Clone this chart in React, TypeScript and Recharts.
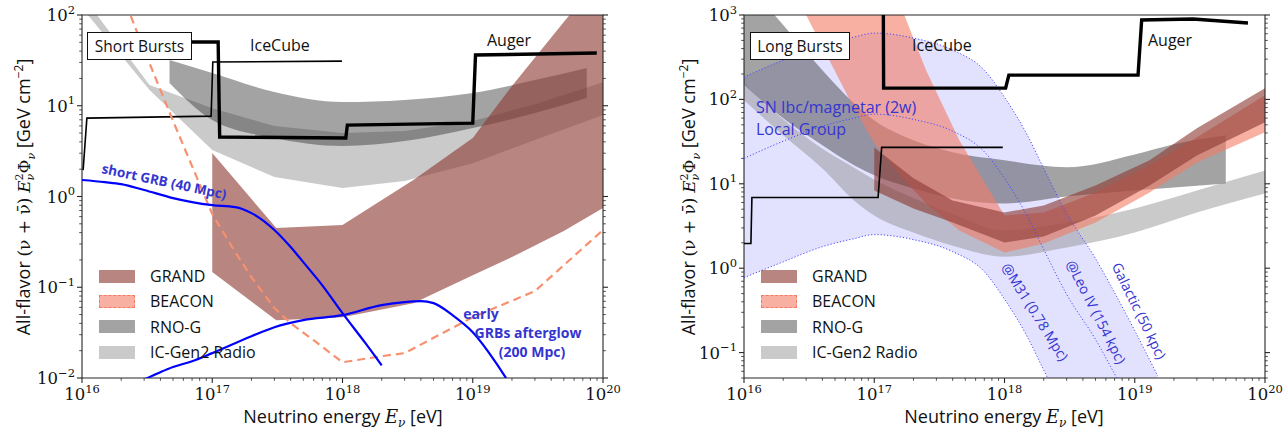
import React from 'react';
import { ComposedChart, Area, Line, XAxis, YAxis, ReferenceArea } from 'recharts';

// ---------------- Left panel: Short Bursts ----------------
const sIcGen2E = [1e16, 3.3e16, 1e17, 3e17, 1e18, 3e18, 1e19, 3e19, 1e20];
const sIcGen2Lo = [120, 14.9, 3.25, 1.64, 1.24, 1.48, 2.33, 4.19, 7.9];
const sIcGen2Hi = [166, 16.9, 9.4, 5.97, 5.0, 5.26, 6.78, 10.4, 18.2];

const sRnoE = [4.7e16, 1e17, 3e17, 1e18, 3e18, 1e19, 3e19, 7.5e19];
const sRnoLo = [17.8, 6.95, 4.41, 3.6, 4.08, 5.68, 8.32, 12.2];
const sRnoHi = [31.9, 23.0, 14.2, 11.0, 11.6, 13.8, 19.2, 26.1];

const sGrandE = [1e17, 3.1e17, 1e18, 3.5e18, 1e19, 2e19, 5e19, 1e20];
const sGrandLo = [0.147, 0.0434, 0.0468, 0.0668, 0.136, 0.215, 0.416, 0.745];
const sGrandHi = [3.01, 0.449, 0.484, 1.52, 4.41, 16.5, 83.8, 276];

const sBeaconE = [2e16, 3e16, 5e16, 1e17, 1.5e17, 2e17, 3e17, 4e17, 6e17, 1e18, 2e18, 3e18, 1e19, 3e19, 1e20];
const sBeaconF = [180, 41.1, 6.8, 0.64, 0.244, 0.129, 0.0589, 0.0402, 0.0261, 0.0149, 0.0174, 0.0188, 0.0468, 0.0906, 0.427];

const sIceCubeE = [1.02e16, 1.09e16, 9.8e16, 1.01e17, 9.9e17];
const sIceCubeF = [1.95, 7.31, 7.69, 30.3, 31];

const sAugerE = [3.3e16, 1.11e17, 1.14e17, 1.06e18, 1.09e18, 1e19, 1.05e19, 8.96e19];
const sAugerF = [50.4, 50.4, 4.52, 4.41, 6.12, 6.44, 36.2, 38.1];

const sShortGrbE = [1e16, 1.5e16, 2e16, 3e16, 5e16, 7e16, 1e17, 1.5e17, 2e17, 3e17, 4e17, 5e17, 7e17, 1e18, 1.5e18, 2e18];
const sShortGrbF = [1.52, 1.44, 1.37, 1.18, 0.96, 0.867, 0.803, 0.763, 0.656, 0.427, 0.277, 0.189, 0.105, 0.0518, 0.0242, 0.0138];

const sEarlyGrbE = [2.8e16, 4e16, 5e16, 7e16, 1e17, 2e17, 3e17, 5e17, 1e18, 2e18, 3e18, 4e18, 5e18, 7e18, 1e19, 1.5e19, 1.8e19];
const sEarlyGrbF = [0.0092, 0.0116, 0.0132, 0.0153, 0.0188, 0.0289, 0.0363, 0.0434, 0.0492, 0.0635, 0.0686, 0.0703, 0.0668, 0.0492, 0.032, 0.0149, 0.01];

// ---------------- Right panel: Long Bursts ----------------
const lSnE = [1e16, 2e16, 4e16, 7e16, 1e17, 2e17, 4e17, 7e17, 1e18, 1.5e18, 2e18, 3e18, 5e18, 7e18, 1e19, 1.5e19];
const lGalacticF = [184, 292, 441, 548, 611, 533, 384, 222, 106, 37.6, 15.2, 4.45, 1.3, 0.513, 0.182, 0.053];
const lLeoF = [20.0, 32, 48, 60, 67, 58, 42, 24, 11.6, 4.1, 1.67, 0.49, 0.143, 0.056, 0.02, 0.0058];
const lM31F = [0.773, 1.19, 1.8, 2.24, 2.5, 2.18, 1.57, 0.91, 0.43, 0.153, 0.062, 0.018, 0.0053, 0.0021, 0.00074, 0.00022];

const lRnoE = [1e16, 2e16, 4e16, 7e16, 1e17, 2e17, 4e17, 1e18, 3e18, 1e19, 2e19, 5e19];
const lRnoLo = [148, 59.8, 28.6, 16.6, 12.6, 8.82, 6.71, 5.85, 7.08, 8.35, 9.06, 10.1];
const lRnoHi = [2600, 761, 222, 90.1, 56.6, 32.8, 23.6, 19.0, 15.7, 22.3, 29.4, 37.6];

const lIcGen2E = [1e16, 2e16, 4e16, 7e16, 1e17, 2e17, 4e17, 1e18, 3e18, 1e19, 3e19, 1e20];
const lIcGen2Lo = [97.7, 37.6, 15.2, 6.35, 4.22, 2.65, 1.85, 1.37, 1.76, 2.65, 4.57, 7.69];
const lIcGen2Hi = [160, 58, 26, 15.5, 11.2, 6.8, 4.4, 2.8, 3.48, 5.11, 8.35, 14.4];

const lBeaconE = [3e16, 6.5e16, 1e17, 1.7e17, 2.5e17, 4.5e17, 1e18, 2e18, 5e18, 1.3e19, 3e19, 1e20];
const lBeaconLo = [1000, 97.7, 30.2, 11.0, 5.85, 2.8, 1.53, 1.96, 3.48, 7.91, 17.9, 40.7];
const lBeaconHi = [40000, 7780, 2990, 1000, 222, 32.8, 4.22, 4.57, 7.91, 16.6, 35.6, 112];

const lGrandE = [1e17, 2e17, 4e17, 1e18, 2e18, 5e18, 1.3e19, 3e19, 1e20];
const lGrandLo = [8.35, 5.11, 3.48, 2.01, 2.37, 4.22, 9.57, 21.7, 53.6];
const lGrandHi = [27.0, 11.6, 6.35, 4.57, 5.53, 9.57, 19.0, 45.5, 136];

const lIceCubeE = [1e16, 1.13e16, 1.15e16, 1.07e17, 1.14e17, 9.7e17];
const lIceCubeF = [1.96, 1.96, 6.89, 6.89, 27.0, 27.0];

const lAugerE = [1.17e17, 1.18e17, 1.02e18, 1.08e18, 1.06e19, 1.13e19, 2.8e19, 7.4e19];
const lAugerF = [5000, 136, 136, 194, 194, 872, 896, 803];

// ---------------- axes ----------------
const xMajor = [16, 17, 18, 19, 20];
const sYMajor = [-2, -1, 0, 1, 2];
const lYMajor = [-1, 0, 1, 2, 3];
const sYDomain = [0.01, 100];
const lYDomain = [0.05, 1000];

const withMinors = (majors: number[], lo: number, hi: number) => {
  const out: number[] = [];
  for (let d = majors[0] - 1; d <= majors[majors.length - 1]; d++) {
    for (let k = 1; k <= 9; k++) {
      const v = k * Math.pow(10, d);
      if (v >= lo * 0.9999 && v <= hi * 1.0001) out.push(v);
    }
  }
  return out;
};
const xTicks = withMinors(xMajor, 1e16, 1e20);
const sYTicks = withMinors(sYMajor, sYDomain[0], sYDomain[1]);
const lYTicks = withMinors(lYMajor, lYDomain[0], lYDomain[1]);

const pts = (E: number[], F: number[]) => E.map((e, i) => ({ e, f: F[i] }));
const band = (E: number[], lo: number[], hi: number[]) => E.map((e, i) => ({ e, r: [lo[i], hi[i]] }));

const isMajor = (v: number) => {
  const l = Math.log10(v);
  return Math.abs(l - Math.round(l)) < 1e-6;
};
const expText = (v: number) => {
  const e = Math.round(Math.log10(v));
  return e < 0 ? '\u2212' + Math.abs(e) : String(e);
};

const SERIF = "'DejaVu Serif', 'Liberation Serif', serif";
const SANS = "'Open Sans', 'Noto Sans', sans-serif";
const AX = '#262626';

const XTick = (p: any) => {
  const { x, y, payload } = p;
  const m = isMajor(payload.value);
  return (
    <g>
      <line x1={x} x2={x} y1={y} y2={y + (m ? 5 : 2.8)} stroke={AX} strokeWidth={m ? 1.1 : 0.8} />
      {m ? (
        <text x={x} y={y + 22} textAnchor="middle" fontFamily={SERIF} fontSize={16.5} fill="#111">
          10<tspan dy={-7.5} fontSize={11.5}>{expText(payload.value)}</tspan>
        </text>
      ) : null}
    </g>
  );
};
const YTickL = (p: any) => {
  const { x, y, payload } = p;
  const m = isMajor(payload.value);
  return (
    <g>
      <line x1={x} x2={x - (m ? 5 : 2.8)} y1={y} y2={y} stroke={AX} strokeWidth={m ? 1.1 : 0.8} />
      {m ? (
        <text x={x - 7} y={y + 6} textAnchor="end" fontFamily={SERIF} fontSize={16.5} fill="#111">
          10<tspan dy={-7.5} fontSize={11.5}>{expText(payload.value)}</tspan>
        </text>
      ) : null}
    </g>
  );
};
const YTickR = (p: any) => {
  const { x, y, payload } = p;
  const m = isMajor(payload.value);
  return <line x1={x} x2={x + (m ? 5 : 2.8)} y1={y} y2={y} stroke={AX} strokeWidth={m ? 1.1 : 0.8} />;
};

const C = {
  icgen2: '#8a8a8a', icgen2Op: 0.45,
  rno: '#333333', rnoOp: 0.45,
  grand: '#8c3a34', grandOp: 0.62,
  beacon: '#f47c66', beaconOp: 0.6,
  beaconLine: '#f7906f',
  lav: '#2020ff', lavOp: 0.13,
  blue: '#0000ff',
  blueText: '#3535d0',
};

function Panel({ left, yDomain, yTicks, children }: any) {
  return (
    <div style={{ position: 'absolute', left, top: 0 }}>
      <ComposedChart width={623} height={430} margin={{ top: 15, right: 0, bottom: 0, left: 0 }}>
        <XAxis dataKey="e" type="number" scale="log" domain={[1e16, 1e20]} allowDataOverflow ticks={xTicks}
          interval={0} tick={(p: any) => <XTick {...p} />} tickLine={false} axisLine={false} tickSize={0} tickMargin={0} height={52} />
        <YAxis yAxisId="l" type="number" scale="log" domain={yDomain} allowDataOverflow ticks={yTicks}
          interval={0} tick={(p: any) => <YTickL {...p} />} tickLine={false} axisLine={false} tickSize={0} tickMargin={0} width={82} />
        <YAxis yAxisId="r" orientation="right" type="number" scale="log" domain={yDomain} allowDataOverflow ticks={yTicks}
          interval={0} tick={(p: any) => <YTickR {...p} />} tickLine={false} axisLine={false} tickSize={0} tickMargin={0} width={20} />
        {children}
        <ReferenceArea yAxisId="l" x1={1e16} x2={1e20} y1={yDomain[0]} y2={yDomain[1]} fill="none" fillOpacity={0}
          stroke={AX} strokeWidth={1.1} ifOverflow="visible" />
      </ComposedChart>
    </div>
  );
}

const areaProps = { yAxisId: 'l', dataKey: 'r', stroke: 'none', isAnimationActive: false, activeDot: false, dot: false } as any;
const lineProps = { yAxisId: 'l', dataKey: 'f', dot: false, activeDot: false, isAnimationActive: false } as any;

function LegendBlock({ x }: { x: number }) {
  const rows = [
    { label: 'GRAND', bg: 'rgba(140,58,52,0.62)', border: 'none' },
    { label: 'BEACON', bg: 'rgba(244,124,102,0.6)', border: '1.6px dashed #f47c66' },
    { label: 'RNO-G', bg: 'rgba(51,51,51,0.45)', border: 'none' },
    { label: 'IC-Gen2 Radio', bg: 'rgba(138,138,138,0.45)', border: 'none' },
  ];
  const ys = [276, 301, 326.5, 352];
  return (
    <>
      {rows.map((r, i) => (
        <React.Fragment key={r.label}>
          <div style={{ position: 'absolute', left: x, top: ys[i] - 6.5, width: 36, height: 13, background: r.bg, border: r.border, boxSizing: 'border-box' }} />
          <div style={{ position: 'absolute', left: x + 51, top: ys[i], transform: 'translateY(-50%)', fontFamily: SANS, fontSize: 16, color: '#111', whiteSpace: 'nowrap', lineHeight: 1 }}>{r.label}</div>
        </React.Fragment>
      ))}
    </>
  );
}

const Txt = ({ x, y, children, style }: any) => (
  <div style={{ position: 'absolute', left: x, top: y, transform: 'translateY(-50%)', whiteSpace: 'nowrap', lineHeight: 1, fontFamily: SANS, fontSize: 16, color: '#111', ...style }}>{children}</div>
);
const CTxt = ({ x, y, rot, children, style }: any) => (
  <div style={{ position: 'absolute', left: x, top: y, transform: `translate(-50%,-50%) rotate(${rot || 0}deg)`, whiteSpace: 'nowrap', lineHeight: 1, fontFamily: SANS, fontSize: 14, color: C.blueText, ...style }}>{children}</div>
);
const BoxLabel = ({ x, y, w, h, children }: any) => (
  <div style={{ position: 'absolute', left: x, top: y, width: w, height: h, boxSizing: 'border-box', border: '1.2px solid #111', background: '#fff', display: 'flex', alignItems: 'center', justifyContent: 'center', fontFamily: SANS, fontSize: 15.5, color: '#111', whiteSpace: 'nowrap' }}>{children}</div>
);

const YTitle = ({ cx }: { cx: number }) => (
  <div style={{ position: 'absolute', left: cx, top: 197, transform: 'translate(-50%,-50%) rotate(-90deg)', whiteSpace: 'nowrap', fontFamily: SANS, fontSize: 18, color: '#111', lineHeight: 1 }}>
    All-flavor <span style={{ fontFamily: SERIF, fontSize: 17 }}>(ν + ν̄)</span>{' '}
    <span style={{ fontFamily: SERIF, fontStyle: 'italic', fontSize: 17 }}>E</span>
    <span style={{ display: 'inline-flex', flexDirection: 'column', fontFamily: SERIF, fontSize: 11, lineHeight: 1, verticalAlign: 'middle', fontStyle: 'italic' }}>
      <span style={{ fontStyle: 'normal' }}>2</span><span>ν</span>
    </span>
    <span style={{ fontFamily: SERIF, fontSize: 17 }}>Φ</span>
    <span style={{ fontFamily: SERIF, fontSize: 11, fontStyle: 'italic', verticalAlign: 'sub' }}>ν</span>
    {'  '}[GeV cm<sup style={{ fontSize: 12 }}>−2</sup>]
  </div>
);
const XTitle = ({ cx }: { cx: number }) => (
  <div style={{ position: 'absolute', left: cx, top: 418, transform: 'translate(-50%,-50%)', whiteSpace: 'nowrap', fontFamily: SANS, fontSize: 18, color: '#111', lineHeight: 1 }}>
    Neutrino energy <span style={{ fontFamily: SERIF, fontStyle: 'italic', fontSize: 18 }}>E</span>
    <span style={{ fontFamily: SERIF, fontStyle: 'italic', fontSize: 12, verticalAlign: 'sub' }}>ν</span> [eV]
  </div>
);

export default function App() {
  return (
    <div style={{ position: 'absolute', left: 0, top: 0, width: 1288, height: 430, background: '#fff', overflow: 'hidden' }}>
      {/* Left panel */}
      <Panel left={0} yDomain={sYDomain} yTicks={sYTicks}>
        <Area {...areaProps} data={band(sIcGen2E, sIcGen2Lo, sIcGen2Hi)} type="linear" fill={C.icgen2} fillOpacity={C.icgen2Op} />
        <Area {...areaProps} data={band(sRnoE, sRnoLo, sRnoHi)} type="monotone" fill={C.rno} fillOpacity={C.rnoOp} />
        <Line {...lineProps} data={pts(sIceCubeE, sIceCubeF)} type="linear" stroke="#000" strokeWidth={1.6} />
        <Line {...lineProps} data={pts(sAugerE, sAugerF)} type="linear" stroke="#000" strokeWidth={3.4} />
        <Area {...areaProps} data={band(sGrandE, sGrandLo, sGrandHi)} type="linear" fill={C.grand} fillOpacity={C.grandOp} />
        <Line {...lineProps} data={pts(sBeaconE, sBeaconF)} type="linear" stroke={C.beaconLine} strokeWidth={2.2} strokeDasharray="8 5" />
        <Line {...lineProps} data={pts(sShortGrbE, sShortGrbF)} type="monotone" stroke={C.blue} strokeWidth={2.2} />
        <Line {...lineProps} data={pts(sEarlyGrbE, sEarlyGrbF)} type="monotone" stroke={C.blue} strokeWidth={2.2} />
      </Panel>

      {/* Right panel */}
      <Panel left={662} yDomain={lYDomain} yTicks={lYTicks}>
        <Area {...areaProps} data={band(lSnE, lM31F, lGalacticF)} type="monotone" fill={C.lav} fillOpacity={C.lavOp} />
        <Line {...lineProps} data={pts(lSnE, lGalacticF)} type="monotone" stroke="#4848ff" strokeWidth={1} strokeDasharray="1.2 2" />
        <Line {...lineProps} data={pts(lSnE, lLeoF)} type="monotone" stroke="#4848ff" strokeWidth={1} strokeDasharray="1.2 2" />
        <Line {...lineProps} data={pts(lSnE, lM31F)} type="monotone" stroke="#4848ff" strokeWidth={1} strokeDasharray="1.2 2" />
        <Area {...areaProps} data={band(lRnoE, lRnoLo, lRnoHi)} type="monotone" fill={C.rno} fillOpacity={C.rnoOp} />
        <Area {...areaProps} data={band(lIcGen2E, lIcGen2Lo, lIcGen2Hi)} type="monotone" fill={C.icgen2} fillOpacity={C.icgen2Op} />
        <Area {...areaProps} data={band(lBeaconE, lBeaconLo, lBeaconHi)} type="linear" fill={C.beacon} fillOpacity={C.beaconOp} />
        <Area {...areaProps} data={band(lGrandE, lGrandLo, lGrandHi)} type="linear" fill={C.grand} fillOpacity={C.grandOp} />
        <Line {...lineProps} data={pts(lIceCubeE, lIceCubeF)} type="linear" stroke="#000" strokeWidth={1.6} />
        <Line {...lineProps} data={pts(lAugerE, lAugerF)} type="linear" stroke="#000" strokeWidth={3.4} />
      </Panel>

      {/* Overlays: left */}
      <YTitle cx={25} />
      <XTitle cx={343} />
      <BoxLabel x={87} y={32} w={105} h={28}>Short Bursts</BoxLabel>
      <Txt x={250} y={45}>IceCube</Txt>
      <Txt x={487} y={40}>Auger</Txt>
      <CTxt x={164} y={182} rot={12} style={{ fontWeight: 700, fontSize: 13.5 }}>short GRB (40 Mpc)</CTxt>
      <CTxt x={481} y={314} style={{ fontWeight: 700, fontSize: 14 }}>early</CTxt>
      <CTxt x={528} y={333} style={{ fontWeight: 700, fontSize: 14 }}>GRBs afterglow</CTxt>
      <CTxt x={532} y={352} style={{ fontWeight: 700, fontSize: 14 }}>(200 Mpc)</CTxt>
      <LegendBlock x={99} />

      {/* Overlays: right */}
      <YTitle cx={690} />
      <XTitle cx={1004} />
      <BoxLabel x={750} y={32} w={100} h={28}>Long Bursts</BoxLabel>
      <Txt x={912} y={45}>IceCube</Txt>
      <Txt x={1148} y={40}>Auger</Txt>
      <Txt x={756} y={107} style={{ color: C.blueText }}>SN Ibc/magnetar (2w)</Txt>
      <Txt x={756} y={129} style={{ color: C.blueText }}>Local Group</Txt>
      <CTxt x={1035} y={312} rot={58}>@M31 (0.78 Mpc)</CTxt>
      <CTxt x={1096} y={312} rot={63}>@Leo IV (154 kpc)</CTxt>
      <CTxt x={1139} y={311} rot={64}>Galactic (50 kpc)</CTxt>
      <LegendBlock x={761} />
    </div>
  );
}
